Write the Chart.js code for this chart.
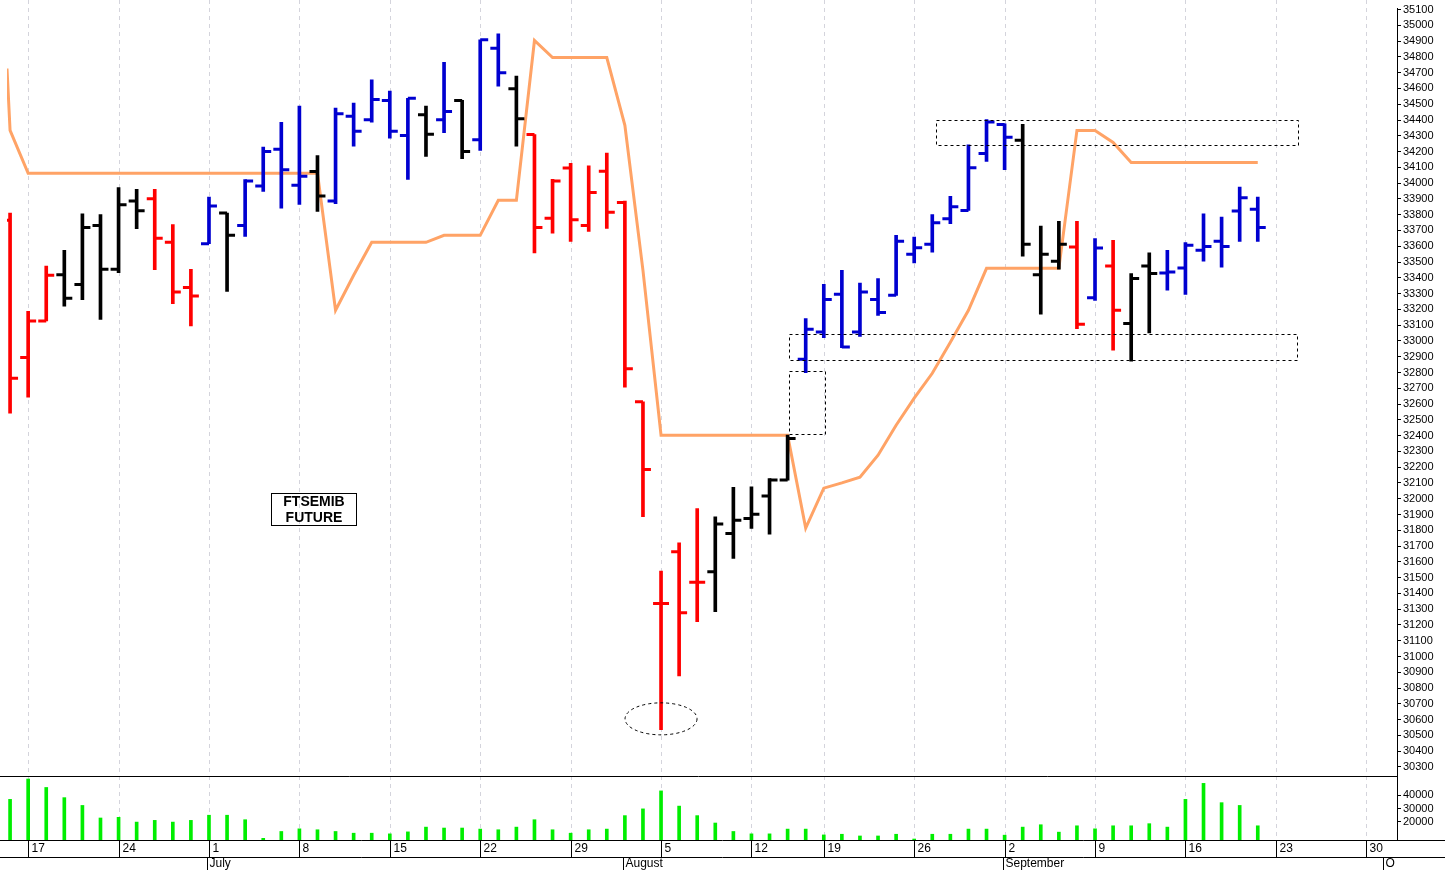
<!DOCTYPE html>
<html><head><meta charset="utf-8">
<script src="https://cdn.jsdelivr.net/npm/chart.js@4/dist/chart.umd.min.js"></script>
<style>html,body{margin:0;padding:0;background:#fff}#w{width:1445px;height:870px;position:relative}</style>
</head><body><div id="w"><canvas id="c"></canvas></div>
<script>
const dates = ["Jun 14","Jun 17","Jun 18","Jun 19","Jun 20","Jun 21","Jun 24","Jun 25","Jun 26","Jun 27","Jun 28","Jul 1","Jul 2","Jul 3","Jul 4","Jul 5","Jul 8","Jul 9","Jul 10","Jul 11","Jul 12","Jul 15","Jul 16","Jul 17","Jul 18","Jul 19","Jul 22","Jul 23","Jul 24","Jul 25","Jul 26","Jul 29","Jul 30","Jul 31","Aug 1","Aug 2","Aug 5","Aug 6","Aug 7","Aug 8","Aug 9","Aug 12","Aug 13","Aug 14","Aug 16","Aug 19","Aug 20","Aug 21","Aug 22","Aug 23","Aug 26","Aug 27","Aug 28","Aug 29","Aug 30","Sep 2","Sep 3","Sep 4","Sep 5","Sep 6","Sep 9","Sep 10","Sep 11","Sep 12","Sep 13","Sep 16","Sep 17","Sep 18","Sep 19","Sep 20"];
const openV  = [33764,32895,33126,33420,33357,33732,33454,33886,33901,33625,33338,33616,33810,33732,33981,34214,33986,34074,33886,34424,34402,34524,34302,34433,34402,34524,34275,34855,34598,34308,33777,34096,33732,34076,33878,32614,31336,31664,31470,31537,31780,31875,32018,32118,32884,33057,33295,33057,33262,33289,33549,33612,33775,33827,34187,34372,34271,33420,33505,33595,33274,33475,33110,33475,33430,33462,33574,33631,33823,33834];
const highV  = [33810,33188,33475,33574,33806,33800,33971,33960,33960,33737,33454,33912,33810,34022,34228,34386,34488,34175,34475,34507,34655,34583,34538,34488,34766,34524,34908,34946,34678,34308,34024,34125,34110,34191,33887,32614,31541,31721,31938,31885,32072,32076,32128,32403,33141,33359,33447,33367,33395,33669,33658,33800,33916,34243,34402,34376,34372,33728,33758,33758,33648,33637,33427,33559,33574,33623,33806,33785,33975,33912];
const lowV   = [32542,32643,33126,33221,33262,33137,33433,33711,33452,33236,33095,33616,33314,33663,33948,33842,33865,33821,33870,34234,34386,34285,34024,34169,34319,34155,34207,34614,34234,33558,33683,33631,33694,33713,32707,31886,30537,30877,31221,31284,31622,31812,31776,32118,32799,33021,32958,33029,33162,33289,33494,33563,33743,33827,34138,34085,33537,33169,33454,33078,33257,32941,32871,33050,33321,33294,33506,33468,33631,33631];
const closeV = [32764,33126,33416,33270,33718,33454,33863,33825,33650,33310,33285,33855,33669,34013,34201,34085,34043,33918,34440,34329,34530,34329,34538,34309,34454,34201,34908,34699,34408,33718,34014,33768,33941,33815,32824,32185,31336,31278,31470,31839,31864,31902,32118,32382,33074,33262,32962,33310,33180,33631,33591,33749,33850,34098,34387,34291,33612,33549,33612,33105,33589,33194,33395,33427,33437,33606,33599,33599,33908,33718];
const barColor = "rrrkkkkkrrrbkbbbbkbbbbbkbkbbkrrrrrrrrrrkkkkkbbbbbbbbbbbbkkkrbrkkbbbbbb".split("");
const volumeV = [36900,52300,45900,38200,32300,22800,23300,19700,21000,19700,21000,24900,24900,21500,7400,12600,14600,13900,12600,11300,11300,10800,12300,15900,15200,15200,14400,13900,15900,21500,13900,11300,13900,14400,24600,29700,43300,31800,24600,19000,12600,10800,10800,14400,14400,10000,10500,9200,9200,10500,6900,10500,10500,14400,14400,9800,15900,17700,12100,16900,14600,16900,16900,18500,15900,36900,49000,34400,32300,16900];
const orangeStart = 34726;
const orangeV = [34334,34062,34062,34062,34062,34062,34062,34062,34062,34062,34062,34062,34062,34062,34062,34062,34062,34062,33194,33416,33625,33625,33625,33625,33669,33669,33669,33891,33891,34904,34796,34796,34796,34796,34366,33447,32403,32403,32403,32403,32403,32403,32403,32403,31814,32067,32100,32137,32276,32466,32637,32795,32991,33194,33460,33460,33460,33460,33460,34334,34334,34258,34131,34131,34131,34131,34131,34131,34131,34131];
const weekIdx = [1,6,11,16,21,26,31,36,41,45,50,55,60,65,70,75];
const weekLabels = ["17","24","1","8","15","22","29","5","12","19","26","2","9","16","23","30"];
const monthIdx = [11,34,55,76];
const monthLabels = ["July","August","September","O"];
const priceTicks = []; for (let p=30300;p<=35100;p+=100) priceTicks.push(p);
const volTicks = [20000,30000,40000];
const title = ["FTSEMIB","FUTURE"];

const COL = {r:'#ff0000', k:'#000000', b:'#0000d0'};
const cols = barColor.map(c=>COL[c]);
const idx = dates.map((d,i)=>i);

const openPts = idx.map(i=>({x:i-0.22,y:openV[i]}));
const closePts = idx.map(i=>({x:i+0.22,y:closeV[i]}));
const hlPts = idx.map(i=>({x:i,y:[lowV[i],highV[i]]}));
const volPts = idx.map(i=>({x:i,y:volumeV[i]}));
const orPts = [{x:-0.17,y:orangeStart}].concat(idx.map(i=>({x:i,y:orangeV[i]})));

const deco = {
  id:'deco',
  beforeDatasetsDraw(ch){
    const {ctx,chartArea:a,scales:{x}}=ch;
    ctx.save();
    ctx.strokeStyle='#d4d4dc'; ctx.lineWidth=1; ctx.setLineDash([4,4]);
    weekIdx.forEach(i=>{const px=Math.round(x.getPixelForValue(i))+0.5;ctx.beginPath();ctx.moveTo(px,0);ctx.lineTo(px,a.bottom);ctx.stroke();});
    ctx.restore();
  },
  afterDatasetsDraw(ch){
    const {ctx,chartArea:a,scales:{x,y,yv}}=ch;
    ctx.save();
    const sep = Math.round(yv.top)+0.5;
    ctx.strokeStyle='#000'; ctx.lineWidth=1;
    ctx.beginPath();ctx.moveTo(0,sep);ctx.lineTo(a.right,sep);ctx.stroke();
    ctx.beginPath();ctx.moveTo(0,a.bottom+0.5);ctx.lineTo(1445,a.bottom+0.5);ctx.stroke();
    ctx.beginPath();ctx.moveTo(0,a.bottom+17.5);ctx.lineTo(1445,a.bottom+17.5);ctx.stroke();
    ctx.setLineDash([3,3]);
    const rect=(x0,x1,p0,p1)=>{const X0=x.getPixelForValue(x0),X1=x.getPixelForValue(x1),Y0=y.getPixelForValue(p0),Y1=y.getPixelForValue(p1);ctx.strokeRect(Math.round(X0)+0.5,Math.round(Y0)+0.5,Math.round(X1-X0),Math.round(Y1-Y0));};
    rect(51.2,71.2,34400,34240);
    rect(43.1,71.2,33043,32877);
    rect(43.1,45.1,32808,32410);
    ctx.beginPath();
    const cx=x.getPixelForValue(36), cy=y.getPixelForValue(30605);
    ctx.ellipse(cx,cy,36,16,0,0,Math.PI*2);ctx.stroke();
    ctx.setLineDash([]);
    ctx.strokeRect(271.5,493.5,85,32);
    ctx.fillStyle='#000';ctx.font='bold 14px "Liberation Sans", Arial';ctx.textAlign='center';ctx.textBaseline='middle';
    ctx.fillText(title[0],314,502);ctx.fillText(title[1],314,518);
    ctx.font='12px "Liberation Sans", Arial';ctx.textAlign='left';ctx.textBaseline='top';
    weekIdx.forEach((i,k)=>{const px=Math.round(x.getPixelForValue(i))+0.5;ctx.beginPath();ctx.moveTo(px,a.bottom);ctx.lineTo(px,a.bottom+17);ctx.stroke();ctx.fillText(weekLabels[k],px+3,a.bottom+3);});
    monthIdx.forEach((i,k)=>{const px=Math.round(x.getPixelForValue(i-0.1))+0.5;ctx.beginPath();ctx.moveTo(px,a.bottom+17);ctx.lineTo(px,870);ctx.stroke();ctx.fillText(monthLabels[k],px+2,a.bottom+18);});
    ctx.restore();
  }
};

const fitW = s=>{s.width=48;};
const tickCfg = {autoSkip:false,padding:2,color:'#000',font:{family:'"Liberation Sans", Arial',size:11},callback:v=>String(v)};
new Chart(document.getElementById('c'),{
  data:{datasets:[
    {type:'line',data:orPts,yAxisID:'y',borderColor:'#ffa366',borderWidth:3,pointRadius:0,tension:0,order:5},
    {type:'bar',data:hlPts,yAxisID:'y',backgroundColor:cols,barThickness:3,grouped:false,order:1},
    {type:'scatter',data:openPts,yAxisID:'y',pointStyle:'line',radius:4,borderWidth:3,borderColor:cols,order:0},
    {type:'scatter',data:closePts,yAxisID:'y',pointStyle:'line',radius:4,borderWidth:3,borderColor:cols,order:0},
    {type:'bar',data:volPts,yAxisID:'yv',backgroundColor:'#00ee00',barThickness:3,grouped:false,order:2}
  ]},
  options:{responsive:true,maintainAspectRatio:false,animation:false,
    layout:{padding:{top:0,bottom:30,left:0,right:0}},
    plugins:{legend:{display:false},tooltip:{enabled:false}},
    scales:{
      x:{type:'linear',min:-0.17,max:76.7,display:false,offset:false,grid:{offset:false}},
      y:{position:'right',stack:'s',stackWeight:767,min:30243,max:35106,
        afterBuildTicks:s=>{s.ticks=priceTicks.map(v=>({value:v}));},afterFit:fitW,
        border:{display:true,color:'#000'},grid:{drawOnChartArea:false,tickLength:4,color:'#000'},ticks:tickCfg},
      yv:{position:'right',stack:'s',stackWeight:64,min:6150,max:54600,
        afterBuildTicks:s=>{s.ticks=volTicks.map(v=>({value:v}));},afterFit:fitW,
        border:{display:true,color:'#000'},grid:{drawOnChartArea:false,tickLength:4,color:'#000'},ticks:tickCfg}
    }},
  plugins:[deco]
});
</script></body></html>
